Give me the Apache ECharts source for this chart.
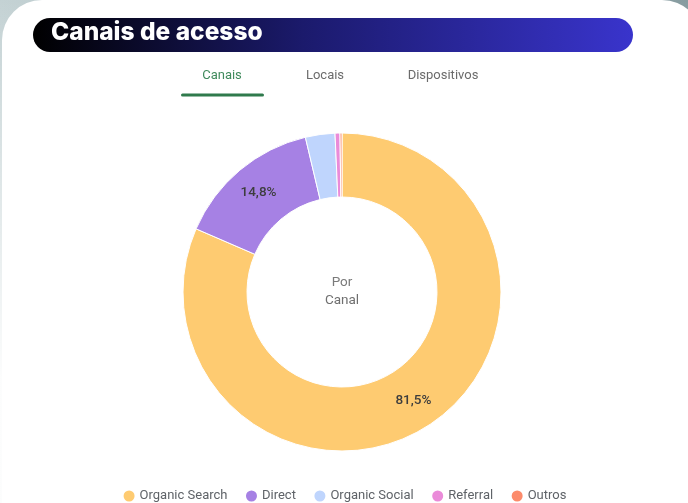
<!DOCTYPE html>
<html>
<head>
<meta charset="utf-8">
<script src="https://cdn.jsdelivr.net/npm/echarts@6/dist/echarts.min.js"></script>
<style>
  html, body {
    margin: 0;
    padding: 0;
    width: 688px;
    height: 503px;
    overflow: hidden;
    background:
      linear-gradient(to bottom, rgba(255,255,255,0) 0%, rgba(255,255,255,0.95) 75%),
      linear-gradient(to right, #c4d2d4 0%, #a9bcbf 50%, #879ca0 100%);
  }
  #canais-acesso {
    width: 688px;
    height: 503px;
  }
</style>
</head>
<body>
<div id="canais-acesso"></div>
<script>
  // dados
  const canais = ['Organic Search', 'Direct', 'Organic Social', 'Referral', 'Outros'];
  const percentuais = [81.5, 14.8, 3.0, 0.5, 0.2];
  const abas = ['Canais', 'Locais', 'Dispositivos'];

  const cores = ['#fecb71', '#a681e4', '#bfd5fd', '#ea8bd9', '#fc8b6b'];

  let chartDom = document.getElementById('canais-acesso');
  let myChart = echarts.init(chartDom, null, { renderer: 'canvas' });

  const tabX = [222, 325, 443];

  let option = {
    animation: false,
    color: cores,
    legend: {
      data: canais,
      left: 'center',
      top: 483.5,
      icon: 'circle',
      itemWidth: 13,
      itemHeight: 13,
      itemGap: 16.5,
      textStyle: {
        fontFamily: 'Roboto',
        fontSize: 13,
        color: '#5f6368',
        padding: [0, 0, 0, -1]
      }
    },
    graphic: [
      {
        type: 'rect',
        z: -10,
        shape: { x: 2, y: 0, width: 700, height: 520, r: [40, 40, 0, 0] },
        style: { fill: '#ffffff' }
      },
      {
        type: 'rect',
        shape: { x: 33, y: 18, width: 600, height: 34, r: 17 },
        style: {
          fill: new echarts.graphic.LinearGradient(0, 0, 1, 0, [
            { offset: 0, color: '#000000' },
            { offset: 0.45, color: '#1b1a6c' },
            { offset: 1, color: '#3934cc' }
          ])
        }
      },
      {
        type: 'text',
        style: {
          x: 51, y: 33,
          text: 'Canais de acesso',
          fill: '#ffffff',
          font: '800 24.5px Inter',
          textVerticalAlign: 'middle'
        }
      },
      ...abas.map((t, i) => ({
        type: 'text',
        style: {
          x: tabX[i], y: 76,
          text: t,
          fill: i === 0 ? '#3f8a5c' : '#6b6b6b',
          font: '13px Roboto',
          textAlign: 'center',
          textVerticalAlign: 'middle'
        }
      })),
      {
        type: 'rect',
        shape: { x: 181, y: 93.5, width: 83, height: 3, r: 1.5 },
        style: { fill: '#2f7a4c' }
      },
      {
        type: 'text',
        style: {
          x: 342, y: 283,
          text: 'Por',
          fill: '#7a7a7a',
          font: '13.5px Roboto',
          textAlign: 'center',
          textVerticalAlign: 'middle'
        }
      },
      {
        type: 'text',
        style: {
          x: 342, y: 301,
          text: 'Canal',
          fill: '#6f6f6f',
          font: '13.5px Roboto',
          textAlign: 'center',
          textVerticalAlign: 'middle'
        }
      }
    ],
    series: [
      {
        type: 'pie',
        center: [342, 292],
        radius: [95, 159],
        startAngle: 90,
        clockwise: true,
        avoidLabelOverlap: false,
        itemStyle: {
          borderColor: '#ffffff',
          borderWidth: 1
        },
        label: {
          show: true,
          position: 'inside',
          fontFamily: 'Roboto',
          fontSize: 13.5,
          fontWeight: 500,
          color: '#3d3d3d',
          formatter: p => p.value >= 10 ? p.value.toFixed(1).replace('.', ',') + '%' : ''
        },
        labelLine: { show: false },
        emphasis: { disabled: true },
        data: canais.map((c, i) => ({ name: c, value: percentuais[i] }))
      }
    ]
  };
  option && myChart.setOption(option);
</script>
</body>
</html>
